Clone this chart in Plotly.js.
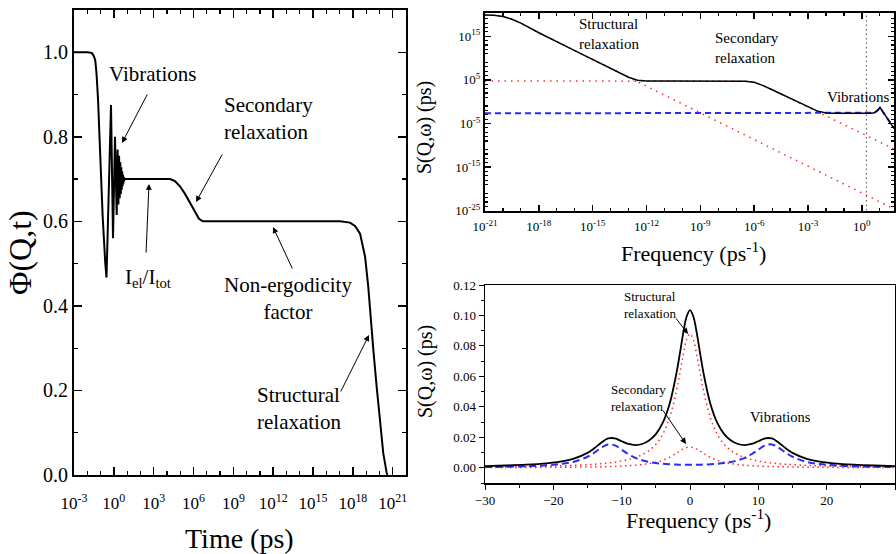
<!DOCTYPE html>
<html><head><meta charset="utf-8">
<script src="https://cdn.plot.ly/plotly-3.0.1.min.js"></script>
<style>html,body{margin:0;padding:0;background:#fff}#chart{width:896px;height:554px}</style>
</head><body><div id="chart"></div>
<script>
// ---------- Left panel: Phi(Q,t) vs time ----------
const timePs = [1e-3, 0.01132, 0.02265, 0.03206, 0.04018, 0.04943, 0.06412, 0.0955, 0.1449, 0.2275,
  0.2799, 0.6109, 0.865, 1.222, 1.641, 1.919, 2.203, 2.489, 2.761, 3.062,
  3.342, 3.648, 3.972, 4.266, 4.571, 4.898, 5.248, 5.623, 6.026, 6.918,
  1e3, 1.7e4, 4.07e4, 9.55e4, 2.29e5, 5.37e5, 1.29e6, 2.57e6, 5.13e6, 1e8,
  1.07e17, 6.03e17, 1.445e18, 3.47e18, 8.32e18, 1.445e19, 2.19e19, 3.47e19, 6.17e19, 1.096e20,
  1.95e20, 3.55e20, 4e20];
const phiQt = [1.0, 1.0, 0.998, 0.99, 0.98, 0.95, 0.89, 0.737, 0.61, 0.50,
  0.467, 0.875, 0.56, 0.80, 0.615, 0.77, 0.64, 0.755, 0.655, 0.74,
  0.665, 0.728, 0.675, 0.718, 0.684, 0.71, 0.69, 0.705, 0.697, 0.70,
  0.70, 0.700, 0.695, 0.683, 0.665, 0.645, 0.622, 0.606, 0.600, 0.600,
  0.600, 0.597, 0.589, 0.571, 0.516, 0.445, 0.366, 0.296, 0.209, 0.130,
  0.051, 0.004, 0.0];
const timeTickVals = [1e-3, 1, 1e3, 1e6, 1e9, 1e12, 1e15, 1e18, 1e21];
const timeTickText = ['10<sup>-3</sup>','10<sup>0</sup>','10<sup>3</sup>','10<sup>6</sup>','10<sup>9</sup>','10<sup>12</sup>','10<sup>15</sup>','10<sup>18</sup>','10<sup>21</sup>'];

// ---------- Top-right panel: S(Q,w) log-log ----------
const freqTotal = [1e-21, 3.16e-21, 1e-20, 3.16e-20, 1e-19, 1e-18, 1e-16, 1e-14, 1e-13, 3.16e-13,
  1e-12, 1e-11, 1e-7, 3.16e-7, 1e-6, 3.16e-6, 1e-5, 1e-4, 1e-3, 3.16e-3,
  1e-2, 3.16e-2, 3.16, 5.01, 7.94, 10.2, 12.6, 17.8, 25.1, 39.8, 61.7];
const sTotal = [7.41e19, 6.31e19, 3.55e19, 7.94e18, 1e18, 6.31e15, 5.01e11, 3.98e7, 3.98e5, 8.51e4,
  5.75e4, 5.37e4, 5.32e4, 4.9e4, 2.69e4, 4.9e3, 537, 5.37, 0.0562, 7.59e-3,
  2.69e-3, 2.19e-3, 2.14e-3, 2.82e-3, 1.26e-2, 5.01e-2, 1.26e-2, 1.58e-3, 2.51e-4, 1.58e-5, 7.94e-7];
const freqStruct = [1e-21, 3.16e-21, 1e-20, 3.16e-20, 1e-19, 1e-18, 1e-16, 1e-14, 1e-12, 1e-8, 1e-4, 1, 63.1];
const sStruct = [7.41e19, 6.31e19, 3.55e19, 7.94e18, 1e18, 6.31e15, 5.01e11, 3.98e7, 3.16e3, 2.51e-5, 1.58e-13, 1e-21, 2.51e-25];
const freqSecond = [1e-21, 1e-7, 3.16e-7, 1e-6, 3.16e-6, 1e-5, 1e-4, 1e-3, 1e-2, 1, 63.1];
const sSecond = [5.37e4, 5.32e4, 4.9e4, 2.69e4, 4.9e3, 537, 5.37, 0.0537, 5.37e-4, 5.37e-8, 1.35e-11];
const freqVib = [1e-21, 3.16, 5.01, 7.94, 10.2, 12.6, 17.8, 25.1, 39.8, 61.7];
const sVib = [2.14e-3, 2.14e-3, 2.82e-3, 1.26e-2, 5.01e-2, 1.26e-2, 1.58e-3, 2.51e-4, 1.58e-5, 7.94e-7];
const markerFreq = [1.8, 1.8];
const markerS = [1e-26, 1e22];
const freqTickVals = [1e-21, 1e-18, 1e-15, 1e-12, 1e-9, 1e-6, 1e-3, 1];
const freqTickText = ['10<sup>-21</sup>','10<sup>-18</sup>','10<sup>-15</sup>','10<sup>-12</sup>','10<sup>-9</sup>','10<sup>-6</sup>','10<sup>-3</sup>','10<sup>0</sup>'];
const sTickVals = [1e-25, 1e-15, 1e-5, 1e5, 1e15];
const sTickText = ['10<sup>-25</sup>','10<sup>-15</sup>','10<sup>-5</sup>','10<sup>5</sup>','10<sup>15</sup>'];

// ---------- Bottom-right panel: S(Q,w) linear ----------
const omega = [-30,-27,-24,-21,-19,-17,-15,-14,-13,-12,-11,-10,-9,-8,-7,-6,-5,-4,-3,-2,-1.5,-1,-0.5,0,
  0.5,1,1.5,2,3,4,5,6,7,8,9,10,11,12,13,14,15,17,19,21,24,27,30];
const linTotal = [0.00113,0.00148,0.00201,0.00292,0.00402,0.00596,0.00977,0.01283,0.01647,0.01923,0.01933,0.01744,0.01563,0.01493,0.01561,0.01783,0.02208,0.02942,0.0417,0.06162,0.07461,0.08822,0.09919,0.10355,
  0.09919,0.08822,0.07461,0.06162,0.0417,0.02942,0.02208,0.01783,0.01561,0.01493,0.01563,0.01744,0.01933,0.01923,0.01647,0.01283,0.00977,0.00596,0.00402,0.00292,0.00201,0.00148,0.00113];
const linStruct = [0.00051,0.00063,0.0008,0.00104,0.00127,0.00158,0.00202,0.00231,0.00267,0.00312,0.00368,0.00442,0.0054,0.00672,0.00858,0.01127,0.01536,0.0219,0.0326,0.0501,0.0617,0.074,0.084,0.088,
  0.084,0.074,0.0617,0.0501,0.0326,0.0219,0.01536,0.01127,0.00858,0.00672,0.0054,0.00442,0.00368,0.00312,0.00267,0.00231,0.00202,0.00158,0.00127,0.00104,0.0008,0.00063,0.00051];
const linSecond = [0.00013,0.00017,0.00021,0.00027,0.00033,0.00041,0.00052,0.0006,0.00069,0.0008,0.00094,0.00112,0.00136,0.00168,0.00211,0.00272,0.0036,0.00489,0.0068,0.00942,0.01088,0.01224,0.01323,0.0136,
  0.01323,0.01224,0.01088,0.00942,0.0068,0.00489,0.0036,0.00272,0.00211,0.00168,0.00136,0.00112,0.00094,0.0008,0.00069,0.0006,0.00052,0.00041,0.00033,0.00027,0.00021,0.00017,0.00013];
const linVib = [0.00049,0.00068,0.001,0.00161,0.00242,0.00397,0.00723,0.00992,0.01311,0.01531,0.01471,0.0119,0.00887,0.00653,0.00492,0.00384,0.00312,0.00263,0.0023,0.0021,0.00203,0.00198,0.00196,0.00195,
  0.00196,0.00198,0.00203,0.0021,0.0023,0.00263,0.00312,0.00384,0.00492,0.00653,0.00887,0.0119,0.01471,0.01531,0.01311,0.00992,0.00723,0.00397,0.00242,0.00161,0.001,0.00068,0.00049];

// ---------- layout helpers ----------
const W = 896, H = 554;
const FONT = 'Liberation Serif, Times New Roman, serif';
const px = v => v / W, py = v => 1 - v / H;
function decades(a, b, skipStep) {
  const out = [];
  for (let k = a; k <= b; k++) if (k % skipStep !== 0) out.push(Math.pow(10, k));
  return out;
}
const RED = '#ff2a2a', BLUE = '#2a2aff';

const traces = [
  {x: timePs, y: phiQt, xaxis: 'x', yaxis: 'y', mode: 'lines', line: {color: '#000', width: 2}},

  {x: markerFreq, y: markerS, xaxis: 'x2', yaxis: 'y2', mode: 'lines', line: {color: '#666', width: 1.2, dash: '1.5px,3px'}},
  {x: freqSecond, y: sSecond, xaxis: 'x2', yaxis: 'y2', mode: 'lines', line: {color: RED, width: 1.5, dash: '1.5px,5px'}},
  {x: freqStruct, y: sStruct, xaxis: 'x2', yaxis: 'y2', mode: 'lines', line: {color: RED, width: 1.5, dash: '1.5px,5px'}},
  {x: freqVib, y: sVib, xaxis: 'x2', yaxis: 'y2', mode: 'lines', line: {color: BLUE, width: 2, dash: '6px,4px'}},
  {x: freqTotal, y: sTotal, xaxis: 'x2', yaxis: 'y2', mode: 'lines', line: {color: '#000', width: 1.5}},

  {x: omega, y: linSecond, xaxis: 'x3', yaxis: 'y3', mode: 'lines', line: {color: RED, width: 1.5, dash: '1.5px,3.5px', shape: 'spline'}},
  {x: omega, y: linStruct, xaxis: 'x3', yaxis: 'y3', mode: 'lines', line: {color: RED, width: 1.5, dash: '1.5px,3.5px', shape: 'spline'}},
  {x: omega, y: linVib, xaxis: 'x3', yaxis: 'y3', mode: 'lines', line: {color: BLUE, width: 2, dash: '7px,4px', shape: 'spline'}},
  {x: omega, y: linTotal, xaxis: 'x3', yaxis: 'y3', mode: 'lines', line: {color: '#000', width: 1.8, shape: 'spline'}}
];

const axBase = {showgrid: false, zeroline: false, showline: true, linecolor: '#000', color: '#000'};

const layout = {
  width: W, height: H, margin: {l: 0, r: 0, t: 0, b: 0},
  paper_bgcolor: '#fff', plot_bgcolor: '#fff', showlegend: false,
  font: {family: FONT, color: '#000'},
  xaxis: Object.assign({}, axBase, {
    type: 'log', range: [-3, 22], domain: [px(74), px(406)], anchor: 'y',
    tickmode: 'array', tickvals: timeTickVals, ticktext: timeTickText,
    ticks: 'inside', ticklen: 8, tickwidth: 1.5, linewidth: 2, mirror: 'allticks',
    minor: {tickmode: 'array', tickvals: decades(-3, 22, 3), ticks: 'inside', ticklen: 4, tickwidth: 1.2},
    tickfont: {family: FONT, size: 17}, ticklabelstandoff: 12
  }),
  yaxis: Object.assign({}, axBase, {
    range: [0, 1.1], domain: [py(475), py(10)], anchor: 'x',
    tick0: 0, dtick: 0.2, tickformat: '.1f',
    ticks: 'inside', ticklen: 8, tickwidth: 1.5, linewidth: 2, mirror: 'allticks',
    minor: {dtick: 0.1, ticks: 'inside', ticklen: 4, tickwidth: 1.2},
    tickfont: {family: FONT, size: 20}
  }),
  xaxis2: Object.assign({}, axBase, {
    type: 'log', range: [-21, 1.79], domain: [px(485), px(894)], anchor: 'y2',
    tickmode: 'array', tickvals: freqTickVals, ticktext: freqTickText,
    ticks: 'inside', ticklen: 6, tickwidth: 1.5, linewidth: 2, mirror: 'allticks',
    minor: {tickmode: 'array', tickvals: decades(-21, 1, 3), ticks: 'inside', ticklen: 3, tickwidth: 1.2},
    tickfont: {family: FONT, size: 13}, ticklabelstandoff: 3
  }),
  yaxis2: Object.assign({}, axBase, {
    type: 'log', range: [-25, 20.4], domain: [py(210.7), py(12.7)], anchor: 'x2',
    tickmode: 'array', tickvals: sTickVals, ticktext: sTickText,
    ticks: 'inside', ticklen: 6, tickwidth: 1.5, linewidth: 2, mirror: 'allticks',
    minor: {tickmode: 'array', tickvals: decades(-25, 20, 10).filter(v => Math.round(Math.log10(v)) % 10 !== 5 && Math.round(Math.log10(v)) % 10 !== -5), ticks: 'inside', ticklen: 3, tickwidth: 1.2},
    tickfont: {family: FONT, size: 13}
  }),
  xaxis3: Object.assign({}, axBase, {
    range: [-30, 30], domain: [px(485), px(895)], anchor: 'y3',
    tick0: 0, dtick: 10, ticks: 'outside', ticklen: 5, tickwidth: 1, linewidth: 1.5, mirror: true,
    minor: {dtick: 5, ticks: 'outside', ticklen: 3},
    tickfont: {family: FONT, size: 13}
  }),
  yaxis3: Object.assign({}, axBase, {
    range: [-0.01, 0.12], domain: [py(483), py(285)], anchor: 'x3',
    tick0: 0, dtick: 0.02, tickformat: '.2f', ticks: 'outside', ticklen: 5, tickwidth: 1, linewidth: 1.5, mirror: true,
    minor: {dtick: 0.01, ticks: 'outside', ticklen: 3},
    tickfont: {family: FONT, size: 13}
  }),
  annotations: []
};

function txt(x, y, text, size, xanchor, align, angle) {
  layout.annotations.push({x: px(x), y: py(y), xref: 'paper', yref: 'paper', text: text, showarrow: false,
    font: {family: FONT, size: size, color: '#000'}, xanchor: xanchor || 'center', yanchor: 'middle',
    align: align || 'center', textangle: angle || 0});
}
function arrow(hx, hy, tx, ty) {
  layout.annotations.push({x: px(hx), y: py(hy), xref: 'paper', yref: 'paper', text: '', showarrow: true,
    ax: tx - hx, ay: ty - hy, axref: 'pixel', ayref: 'pixel',
    arrowhead: 2, arrowsize: 1.2, arrowwidth: 1, arrowcolor: '#000'});
}

// axis titles
txt(20, 253, 'Φ(Q,t)', 32, 'center', 'center', -90);
txt(239, 538, 'Time (ps)', 28);
txt(425, 128, 'S(Q,ω) (ps)', 20, 'center', 'center', -90);
txt(693, 252, 'Frequency (ps<sup>-1</sup>)', 22);
txt(425, 372, 'S(Q,ω) (ps)', 20, 'center', 'center', -90);
txt(698, 519, 'Frequency (ps<sup>-1</sup>)', 22);

// left panel labels
txt(152, 74, 'Vibrations', 21);
txt(222, 118, 'Secondary<br>relaxation', 21, 'left', 'left');
txt(148, 278, 'I<sub>el</sub>/I<sub>tot</sub>', 21);
txt(288, 298, 'Non-ergodicity<br>factor', 21);
txt(255, 408, 'Structural<br>relaxation', 21, 'left', 'left');
arrow(122, 143, 148, 93);
arrow(196, 202, 223, 153);
arrow(149, 184, 146, 254);
arrow(273, 227, 293, 270);
arrow(369, 335, 340, 393);

// top-right labels
txt(577, 34, 'Structural<br>relaxation', 15, 'left', 'left');
txt(713, 47.5, 'Secondary<br>relaxation', 15, 'left', 'left');
txt(858, 97, 'Vibrations', 15);

// bottom-right labels
txt(622, 304.5, 'Structural<br>relaxation', 13, 'left', 'left');
txt(609, 398, 'Secondary<br>relaxation', 13, 'left', 'left');
txt(780, 417, 'Vibrations', 14.5);
arrow(688, 334, 675, 317);
arrow(686, 444, 662, 409);

Plotly.newPlot('chart', traces, layout, {staticPlot: true, displayModeBar: false});
</script>
</body></html>
